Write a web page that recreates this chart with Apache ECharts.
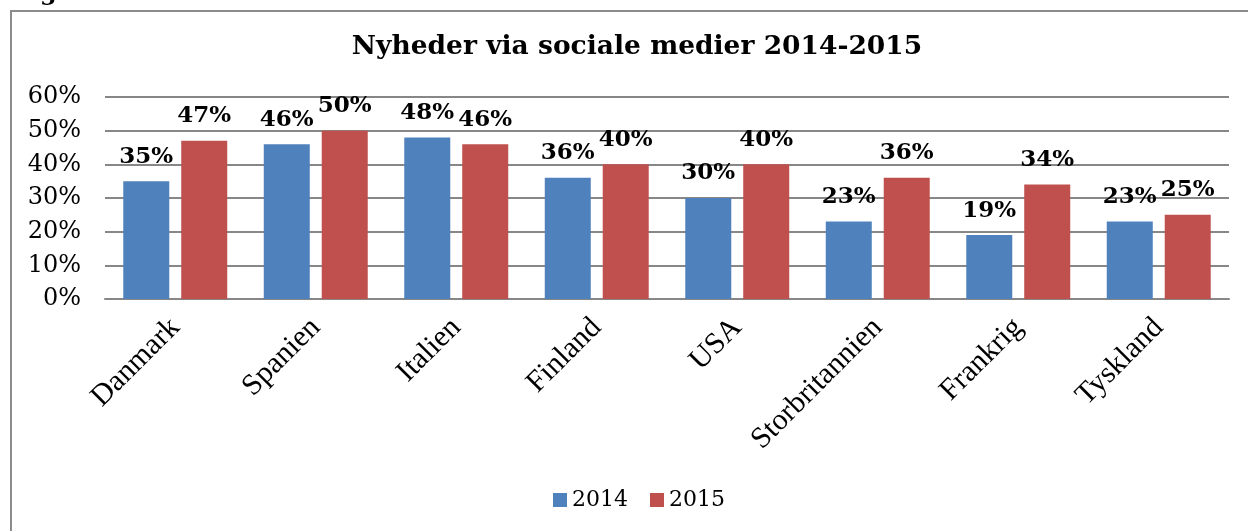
<!DOCTYPE html>
<html lang="da">

<head>
    <meta charset="UTF-8">
    <title>Nyheder via sociale medier 2014-2015</title>
    <style>
        html, body {
            margin: 0;
            padding: 0;
            background: #fff;
        }
        #main {
            width: 1248px;
            height: 531px;
        }
    </style>
    <script src="https://cdn.jsdelivr.net/npm/echarts@6/dist/echarts.min.js"></script>
</head>

<body>
    <div id="main"></div>

    <script>
        // data
        var lande = ['Danmark', 'Spanien', 'Italien', 'Finland', 'USA', 'Storbritannien', 'Frankrig', 'Tyskland'];
        var aar2014 = [35, 46, 48, 36, 30, 23, 19, 23];
        var aar2015 = [47, 50, 46, 40, 40, 36, 34, 25];
        var yTicks = [0, 10, 20, 30, 40, 50, 60];

        var serif = 'DejaVu Serif';
        var gridColor = '#878787';

        var chart = echarts.init(document.getElementById('main'));

        var labelStyle = {
            show: true,
            position: 'top',
            distance: 13,
            formatter: '{c}%',
            fontFamily: serif,
            fontWeight: 'bold',
            fontSize: 23,
            color: '#000'
        };

        var option = {
            animation: false,
            title: {
                text: 'Nyheder via sociale medier 2014-2015',
                left: 632,
                textAlign: 'center',
                top: 29,
                textStyle: {
                    fontFamily: serif,
                    fontWeight: 'bold',
                    fontSize: 26.5,
                    color: '#000'
                }
            },
            legend: {
                data: ['2014', '2015'],
                left: 553,
                top: 489,
                padding: 0,
                icon: 'rect',
                itemWidth: 14,
                itemHeight: 14,
                itemGap: 22,
                textStyle: {
                    fontFamily: serif,
                    fontSize: 22,
                    color: '#000'
                }
            },
            grid: {
                left: 105,
                right: 19,
                top: 97,
                bottom: 232
            },
            xAxis: [
                {
                    type: 'category',
                    data: lande,
                    axisLine: { lineStyle: { color: gridColor, width: 2 } },
                    axisTick: { length: 8, lineStyle: { color: gridColor, width: 2 } },
                    axisLabel: {
                        rotate: 45,
                        margin: 24,
                        fontFamily: 'Liberation Serif',
                        fontSize: 30,
                        color: '#000',
                        interval: 0
                    }
                },
                {
                    // ticks above the axis line (cross ticks)
                    type: 'category',
                    position: 'bottom',
                    data: lande,
                    axisLine: { show: false },
                    axisTick: { inside: true, length: 8, lineStyle: { color: gridColor, width: 2 } },
                    axisLabel: { show: false }
                }
            ],
            yAxis: {
                type: 'value',
                min: yTicks[0],
                max: yTicks[yTicks.length - 1],
                interval: 10,
                axisLine: { show: false },
                axisTick: { show: false },
                splitLine: { lineStyle: { color: gridColor, width: 2 } },
                axisLabel: {
                    formatter: '{value}%',
                    margin: 24,
                    fontFamily: serif,
                    fontSize: 24,
                    color: '#000'
                }
            },
            series: [
                {
                    name: '2014',
                    type: 'bar',
                    data: aar2014,
                    barGap: '26%',
                    barCategoryGap: '26%',
                    itemStyle: { color: '#4F81BD' },
                    label: labelStyle
                },
                {
                    name: '2015',
                    type: 'bar',
                    data: aar2015,
                    itemStyle: { color: '#C0504D' },
                    label: labelStyle
                }
            ],
            graphic: [
                {
                    // ramme om diagrammet
                    type: 'rect',
                    shape: { x: 11, y: 11, width: 1400, height: 700 },
                    style: { fill: 'none', stroke: '#8c8c8c', lineWidth: 2 },
                    silent: true
                },
                {
                    // rest af overskrift over diagrammet
                    type: 'text',
                    x: 40,
                    y: 6,
                    style: {
                        text: 'g',
                        font: 'bold 24px "DejaVu Serif"',
                        fill: '#000',
                        textVerticalAlign: 'bottom'
                    },
                    silent: true
                }
            ]
        };

        chart.setOption(option);
    </script>
</body>

</html>
